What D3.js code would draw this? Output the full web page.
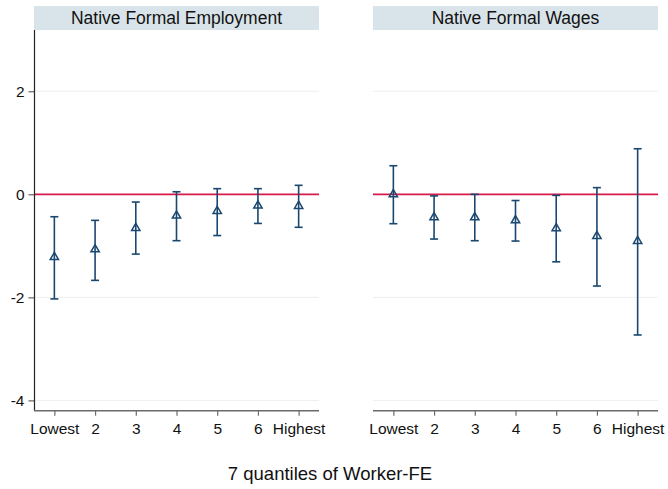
<!DOCTYPE html>
<html>
<head>
<meta charset="utf-8">
<script src="https://cdn.jsdelivr.net/npm/d3@7"></script>
<style>
  html, body { margin: 0; padding: 0; background: #fff; }
  svg { display: block; font-family: "Liberation Sans", Arial, Helvetica, sans-serif; }
</style>
</head>
<body>
<svg id="chart" width="668" height="489"></svg>
<script>
// Quantile categories along the x axis
const categories = ["Lowest", "2", "3", "4", "5", "6", "Highest"];
const yTicks = [-4, -2, 0, 2];

// Native formal employment: point estimates and 95% CI bounds
const empCoef = [-1.22, -1.07, -0.655, -0.415, -0.325, -0.22, -0.227];
const empLo   = [-2.03, -1.67, -1.16, -0.90, -0.80, -0.565, -0.64];
const empHi   = [-0.435, -0.505, -0.15, 0.05, 0.11, 0.11, 0.175];

// Native formal wages: point estimates and 95% CI bounds
const wageCoef = [0.0, -0.447, -0.447, -0.505, -0.66, -0.81, -0.907];
const wageLo   = [-0.57, -0.868, -0.90, -0.907, -1.31, -1.78, -2.73];
const wageHi   = [0.555, -0.03, 0.0, -0.12, -0.02, 0.13, 0.885];

const panelTitles = ["Native Formal Employment", "Native Formal Wages"];
const axisTitle = "7 quantiles of Worker-FE";

const navy = "#1a476f";
const red = "#d7194b";
const stripFill = "#d9e4ea";
const gridColor = "#eeeeee";

const svg = d3.select("#chart");

const plotTop = 30, plotBottom = 410.7;
const y = d3.scaleLinear().domain([-4.2, 3.19]).range([plotBottom, plotTop]);

const panels = [
  { x0: 34, x1: 319, coef: empCoef, lo: empLo, hi: empHi, title: panelTitles[0], yAxis: true },
  { x0: 373, x1: 658, coef: wageCoef, lo: wageLo, hi: wageHi, title: panelTitles[1], yAxis: false }
];

panels.forEach(p => {
  const g = svg.append("g");
  const x = d3.scalePoint().domain(categories).range([p.x0, p.x1]).padding(0.5);

  // header strip
  g.append("rect")
    .attr("x", p.x0).attr("y", 6)
    .attr("width", p.x1 - p.x0).attr("height", 24)
    .attr("fill", stripFill);
  g.append("text")
    .attr("x", (p.x0 + p.x1) / 2).attr("y", 24)
    .attr("text-anchor", "middle")
    .attr("font-size", 17.5)
    .attr("fill", "#111")
    .text(p.title);

  // horizontal grid lines
  g.selectAll("line.grid")
    .data(yTicks.filter(t => t !== 0))
    .join("line")
    .attr("class", "grid")
    .attr("x1", p.x0).attr("x2", p.x1)
    .attr("y1", d => y(d)).attr("y2", d => y(d))
    .attr("stroke", gridColor).attr("stroke-width", 1);

  // zero reference line
  g.append("line")
    .attr("x1", p.x0).attr("x2", p.x1)
    .attr("y1", y(0)).attr("y2", y(0))
    .attr("stroke", red).attr("stroke-width", 1.6);

  // y axis (left panel only)
  if (p.yAxis) {
    const ya = g.append("g")
      .attr("transform", `translate(${p.x0 + 0.5},0)`)
      .call(d3.axisLeft(y).tickValues(yTicks).tickSize(6).tickPadding(4).tickFormat(d3.format("d")));
    ya.select(".domain").attr("d", `M0,${plotTop}V${plotBottom}`).attr("stroke", "#222").attr("stroke-width", 1.2);
    ya.selectAll(".tick line").attr("stroke", "#444");
    ya.selectAll(".tick text")
      .attr("font-size", 15.5).attr("fill", "#111")
      .attr("font-family", "Liberation Sans, Arial, sans-serif")
      .text(d => d < 0 ? "-" + Math.abs(d) : d);
  }

  // x axis
  const xa = g.append("g")
    .attr("transform", `translate(0,${plotBottom})`)
    .call(d3.axisBottom(x).tickSize(5).tickPadding(7));
  xa.select(".domain").attr("d", `M${p.x0},0H${p.x1}`).attr("stroke", "#6b6b6b").attr("stroke-width", 1.6);
  xa.selectAll(".tick line").attr("stroke", "#6b6b6b").attr("stroke-width", 1.2);
  xa.selectAll(".tick text")
    .attr("font-size", 15.5).attr("fill", "#111")
    .attr("font-family", "Liberation Sans, Arial, sans-serif");

  // confidence intervals
  const rows = categories.map((c, i) => ({ c, coef: p.coef[i], lo: p.lo[i], hi: p.hi[i] }));
  const capW = 4;
  const eb = g.append("g").attr("stroke", navy).attr("stroke-width", 1.6).attr("fill", "none");
  eb.selectAll("line.bar").data(rows).join("line")
    .attr("x1", d => x(d.c)).attr("x2", d => x(d.c))
    .attr("y1", d => y(d.hi)).attr("y2", d => y(d.lo));
  eb.selectAll("line.capHi").data(rows).join("line")
    .attr("x1", d => x(d.c) - capW).attr("x2", d => x(d.c) + capW)
    .attr("y1", d => y(d.hi)).attr("y2", d => y(d.hi));
  eb.selectAll("line.capLo").data(rows).join("line")
    .attr("x1", d => x(d.c) - capW).attr("x2", d => x(d.c) + capW)
    .attr("y1", d => y(d.lo)).attr("y2", d => y(d.lo));

  // hollow triangle markers
  const tri = d3.symbol().type(d3.symbolTriangle).size(30);
  g.append("g").selectAll("path").data(rows).join("path")
    .attr("d", tri)
    .attr("transform", d => `translate(${x(d.c)},${y(d.coef)})`)
    .attr("fill", "none").attr("stroke", navy).attr("stroke-width", 1.5);
});

// shared x-axis title
svg.append("text")
  .attr("x", 330).attr("y", 480)
  .attr("text-anchor", "middle")
  .attr("font-size", 18.5)
  .attr("fill", "#111")
  .text(axisTitle);
</script>
</body>
</html>
